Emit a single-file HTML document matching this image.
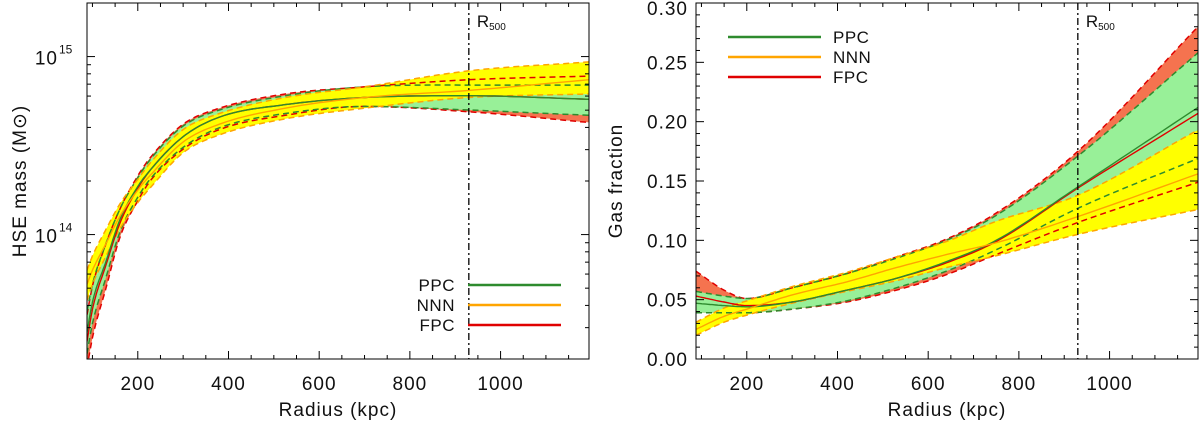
<!DOCTYPE html>
<html><head><meta charset="utf-8"><style>
html,body{margin:0;padding:0;background:#fff;}
svg{display:block;font-family:"Liberation Sans",sans-serif;}
</style></head><body>
<svg id="chart" width="1200" height="422" viewBox="0 0 1200 422"></svg>
<script>
// ---- data ----
const massRadius = [88,100,130,160,200,230,300,380,525,700,930,1195];
const massPPC    = [13.45,13.62,13.85,14.08,14.27,14.37,14.55,14.66,14.73,14.77,14.78,14.76];
const massPPCLo  = [13.33,13.50,13.76,14.01,14.21,14.32,14.49,14.60,14.68,14.72,14.70,14.67];
const massPPCHi  = [13.57,13.72,13.95,14.14,14.32,14.43,14.61,14.70,14.78,14.83,14.84,14.84];
const massFPC    = [13.40,13.58,13.83,14.06,14.26,14.37,14.55,14.66,14.73,14.77,14.78,14.76];
const massFPCLo  = [13.25,13.42,13.70,13.98,14.19,14.31,14.48,14.59,14.67,14.72,14.69,14.63];
const massFPCHi  = [13.55,13.71,13.95,14.14,14.33,14.44,14.62,14.71,14.79,14.83,14.87,14.89];
const massNNN    = [13.72,13.80,13.95,14.10,14.25,14.34,14.52,14.62,14.71,14.77,14.81,14.87];
const massNNNLo  = [13.63,13.72,13.88,14.03,14.18,14.27,14.46,14.56,14.65,14.71,14.77,14.79];
const massNNNHi  = [13.80,13.88,14.03,14.17,14.31,14.41,14.59,14.68,14.77,14.83,14.92,14.97];

const fgasRadius = [88,150,200,300,420,530,640,750,930,1195];
const fgasPPC    = [.047,.045,.044,.048,.058,.068,.082,.100,.145,.212];
const fgasPPCLo  = [.039,.039,.039,.042,.049,.060,.074,.092,.127,.169];
const fgasPPCHi  = [.057,.053,.051,.060,.072,.085,.100,.121,.171,.258];
const fgasFPC    = [.053,.048,.045,.048,.058,.068,.081,.099,.144,.207];
const fgasFPCLo  = [.039,.039,.039,.042,.048,.058,.071,.088,.115,.149];
const fgasFPCHi  = [.074,.058,.051,.060,.072,.086,.101,.123,.175,.280];
const fgasNNN    = [.025,.036,.042,.054,.065,.077,.088,.098,.120,.156];
const fgasNNNLo  = [.020,.031,.037,.047,.057,.066,.077,.087,.105,.126];
const fgasNNNHi  = [.031,.043,.049,.061,.073,.086,.099,.116,.138,.193];

const xTicks = [200,400,600,800,1000];
const fgasTicks = [0.00,0.05,0.10,0.15,0.20,0.25,0.30];
const massDecades = [14,15];
const r500 = 930;
const legendNames = ["PPC","NNN","FPC"];

// ---- helpers ----
const NS="http://www.w3.org/2000/svg";
const svg=document.getElementById('chart');
function mk(tag,attrs,parent){const e=document.createElementNS(NS,tag);for(const k in attrs)e.setAttribute(k,attrs[k]);(parent||svg).appendChild(e);return e;}
const COL={PPC:"#2e8b2e",NNN:"#ffa500",FPC:"#e00000"};
const FILL={PPC:"#98f098",NNN:"#ffff00",FPC:"#f5734f"};
const TXT={'font-size':19,'letter-spacing':'1','fill':'#111'};
function T(attrs,parent,txt){const a=Object.assign({},TXT,attrs);const t=mk('text',a,parent);if(txt!==undefined)t.textContent=txt;return t;}

function smooth(xs,ys,sx,sy){
  const n=xs.length,d=[],m=[];
  for(let i=0;i<n-1;i++)d.push((ys[i+1]-ys[i])/(xs[i+1]-xs[i]));
  for(let i=0;i<n;i++){
    if(i===0)m.push(d[0]);else if(i===n-1)m.push(d[n-2]);
    else m.push(d[i-1]*d[i]<=0?0:(d[i-1]+d[i])/2);
  }
  const pts=[];
  for(let i=0;i<n-1;i++){const h=xs[i+1]-xs[i];
    for(let s=0;s<14;s++){const t=s/14,t2=t*t,t3=t2*t;
      const y=(2*t3-3*t2+1)*ys[i]+(t3-2*t2+t)*h*m[i]+(-2*t3+3*t2)*ys[i+1]+(t3-t2)*h*m[i+1];
      pts.push([sx(xs[i]+h*t),sy(y)]);}
  }
  pts.push([sx(xs[n-1]),sy(ys[n-1])]);
  return pts;
}
const P=p=>p.map((q,i)=>(i?'L':'M')+q[0].toFixed(1)+','+q[1].toFixed(1)).join('');

function panel(o){
  const g=mk('g',{});
  const cp='clip-'+o.name;
  const defs=mk('defs',{},g);const c=mk('clipPath',{id:cp},defs);
  mk('rect',{x:o.L,y:o.T,width:o.R-o.L,height:o.B-o.T},c);
  const sx=v=>o.L+(v-o.xmin)/(o.xmax-o.xmin)*(o.R-o.L);
  const sy=v=>o.B-(v-o.ymin)/(o.ymax-o.ymin)*(o.B-o.T);
  const plot=mk('g',{'clip-path':'url(#'+cp+')'},g);
  const order=["FPC","PPC","NNN"];
  for(const k of order){const d=o.data[k];
    const hi=smooth(o.xs,d.hi,sx,sy),lo=smooth(o.xs,d.lo,sx,sy).reverse();
    const band=mk('path',{d:P(hi.concat(lo))+'Z',fill:FILL[k],stroke:'none'},plot);
    
    }
  for(const k of order){const d=o.data[k];
    for(const e of ['hi','lo']){
      const l=mk('path',{d:P(smooth(o.xs,d[e],sx,sy)),fill:'none',stroke:COL[k],'stroke-width':1.5,'stroke-dasharray':'6,4'},plot);
      
      }
  }
  for(const k of order){const d=o.data[k];
    const l=mk('path',{d:P(smooth(o.xs,d.mid,sx,sy)),fill:'none',stroke:COL[k],'stroke-width':1.4},plot);
    
    }
  const rx=sx(r500);
  mk('line',{x1:rx,y1:o.T,x2:rx,y2:o.B,stroke:'#000','stroke-width':1.3,'stroke-dasharray':'7,3,2,3',},g);
  const rt=T({x:rx+8,y:o.T+24,'font-size':17,'letter-spacing':'0',},g,'R');
  const sub=mk('tspan',{'font-size':10,dy:3},rt);sub.textContent='500';
  mk('rect',{x:o.L,y:o.T,width:o.R-o.L,height:o.B-o.T,fill:'none',stroke:'#000','stroke-width':1,},g);
  for(let v=100;v<=1150;v+=50){const x=sx(v);if(x<o.L||x>o.R)continue;const len=(v%200===0)?8:4;
    mk('line',{x1:x,y1:o.B,x2:x,y2:o.B-len,stroke:'#000'},g);mk('line',{x1:x,y1:o.T,x2:x,y2:o.T+len,stroke:'#000'},g);}
  for(const v of xTicks){const t=T({x:sx(v),y:o.B+31,'text-anchor':'middle'},g,v);
    }
  T({x:(o.L+o.R)/2,y:416,'text-anchor':'middle',},g,'Radius  (kpc)');
  o.yaxis(g,sx,sy);
  legendNames.forEach((n,i)=>{const y=o.leg.y+i*20;
    mk('line',{x1:o.leg.x1,y1:y,x2:o.leg.x2,y2:y,stroke:COL[n],'stroke-width':2.5,},g);
    T({x:o.leg.tx,y:y+6,'font-size':17,'letter-spacing':'0.5','text-anchor':o.leg.anchor,},g,n);});
}

panel({name:'mass-panel',L:87,R:589,T:3,B:359,xmin:88,xmax:1195,ymin:13.301,ymax:15.301,xs:massRadius,
  data:{PPC:{mid:massPPC,lo:massPPCLo,hi:massPPCHi},FPC:{mid:massFPC,lo:massFPCLo,hi:massFPCHi},NNN:{mid:massNNN,lo:massNNNLo,hi:massNNNHi}},
  leg:{x1:468,x2:561,tx:455,y:285,anchor:'end'},
  yaxis:(g,sx,sy)=>{
    for(let d=13;d<=15;d++)for(let m=1;m<=9;m++){const v=d+Math.log10(m);if(v<13.301||v>15.301)continue;const y=sy(v),len=m===1?8:4;
      mk('line',{x1:87,y1:y,x2:87+len,y2:y,stroke:'#000'},g);mk('line',{x1:589,y1:y,x2:589-len,y2:y,stroke:'#000'},g);}
    for(const d of massDecades){T({x:58,y:sy(d)+8,'text-anchor':'end',},g,'10');
      T({x:59,y:sy(d)-3,'font-size':12,'letter-spacing':'0'},g,String(d));}
    T({x:0,y:0,'text-anchor':'middle',transform:'translate(26,181) rotate(-90)',},g,'HSE  mass  (M\u2299)');
  }});

panel({name:'gas-fraction-panel',L:696,R:1198,T:3,B:359,xmin:88,xmax:1195,ymin:0,ymax:0.30,xs:fgasRadius,
  data:{PPC:{mid:fgasPPC,lo:fgasPPCLo,hi:fgasPPCHi},FPC:{mid:fgasFPC,lo:fgasFPCLo,hi:fgasFPCHi},NNN:{mid:fgasNNN,lo:fgasNNNLo,hi:fgasNNNHi}},
  leg:{x1:728,x2:821,tx:833,y:37,anchor:'start'},
  yaxis:(g,sx,sy)=>{
    for(let i=0;i<=30;i++){const y=sy(i/100),len=(i%5===0)?8:4;
      mk('line',{x1:696,y1:y,x2:696+len,y2:y,stroke:'#000'},g);mk('line',{x1:1198,y1:y,x2:1198-len,y2:y,stroke:'#000'},g);}
    for(const v of fgasTicks){T({x:688,y:Math.max(sy(v)+7,15),'text-anchor':'end',},g,v.toFixed(2));}
    T({x:0,y:0,'text-anchor':'middle',transform:'translate(622,181) rotate(-90)',},g,'Gas  fraction');
  }});
</script>
</body></html>
